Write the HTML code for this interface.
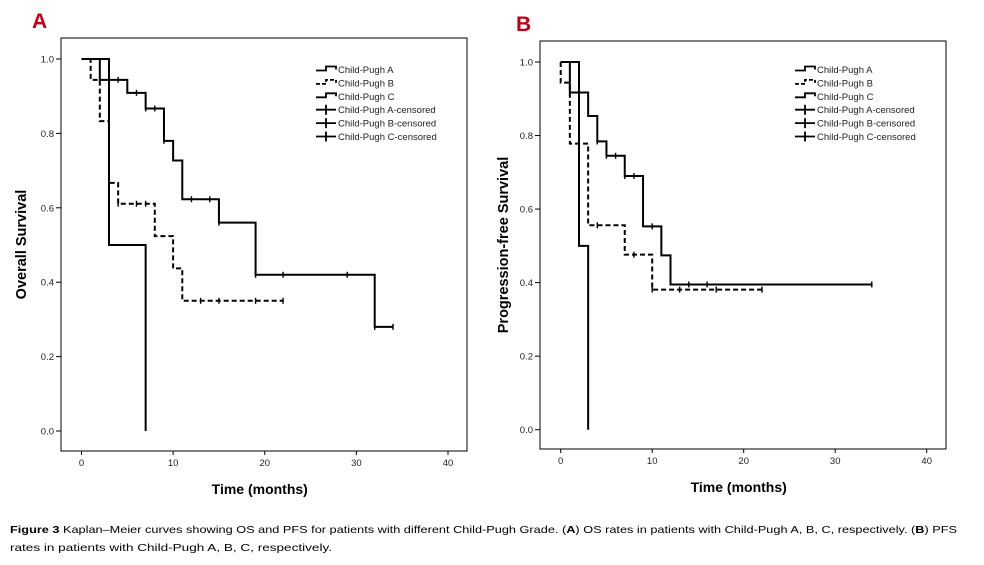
<!DOCTYPE html>
<html><head><meta charset="utf-8"><style>
body{margin:0;background:#fff}
svg{display:block;font-family:"Liberation Sans",Arial,sans-serif}
</style></head><body>
<svg id="fig" width="984" height="565" viewBox="0 0 984 565">
<text x="32" y="28" font-size="21" font-weight="bold" fill="#c00018">A</text>
<text x="516" y="31" font-size="21" font-weight="bold" fill="#c00018">B</text>
<text x="10" y="533" font-size="10.5" textLength="947" lengthAdjust="spacingAndGlyphs"><tspan font-weight="bold">Figure 3</tspan> Kaplan–Meier curves showing OS and PFS for patients with different Child-Pugh Grade. (<tspan font-weight="bold">A</tspan>) OS rates in patients with Child-Pugh A, B, C, respectively. (<tspan font-weight="bold">B</tspan>) PFS</text>
<text x="10" y="551" font-size="10.5" textLength="322" lengthAdjust="spacingAndGlyphs">rates in patients with Child-Pugh A, B, C, respectively.</text>
</svg>
<script>
// Panel A (Overall Survival)
const xTicks = [0, 10, 20, 30, 40];
const yTicks = [0.0, 0.2, 0.4, 0.6, 0.8, 1.0];
const yTickLabels = ["0.0", "0.2", "0.4", "0.6", "0.8", "1.0"];
const legendLabels = ["Child-Pugh A", "Child-Pugh B", "Child-Pugh C", "Child-Pugh A-censored", "Child-Pugh B-censored", "Child-Pugh C-censored"];

const osA_times = [0, 2, 5, 7, 9, 10, 11, 15, 19, 32, 34];
const osA_surv = [1.0, 0.944, 0.909, 0.867, 0.78, 0.727, 0.623, 0.56, 0.42, 0.28, 0.28];
const osA_cens_t = [4, 6, 7, 8, 9, 12, 14, 15, 19, 22, 29, 32, 34];
const osB_times = [0, 1, 2, 3, 4, 8, 10, 11, 22];
const osB_surv = [1.0, 0.944, 0.833, 0.667, 0.611, 0.524, 0.437, 0.35, 0.35];
const osB_cens_t = [4, 6, 7, 13, 15, 19, 22];
const osC_times = [0, 3, 7];
const osC_surv = [1.0, 0.5, 0.0];
const osC_cens_t = [];

// Panel B (Progression-free Survival)
const pfsA_times = [0, 1, 3, 4, 5, 7, 9, 11, 12, 34];
const pfsA_surv = [1.0, 0.917, 0.853, 0.784, 0.745, 0.69, 0.553, 0.474, 0.395, 0.395];
const pfsA_cens_t = [4, 5, 6, 7, 8, 10, 14, 16, 34];
const pfsB_times = [0, 1, 3, 7, 10, 22];
const pfsB_surv = [0.944, 0.778, 0.556, 0.476, 0.381, 0.381];
const pfsB_cens_t = [4, 8, 10, 13, 17, 22];
const pfsC_times = [0, 2, 3];
const pfsC_surv = [1.0, 0.5, 0.0];
const pfsC_cens_t = [];

const NS = "http://www.w3.org/2000/svg";
const svg = document.getElementById('fig');
function mk(tag, attrs, parent) {
  const e = document.createElementNS(NS, tag);
  for (const k in attrs) e.setAttribute(k, attrs[k]);
  (parent || svg).appendChild(e);
  return e;
}
function survAt(times, surv, t) {
  let v = surv[0];
  for (let i = 0; i < times.length; i++) if (times[i] <= t) v = surv[i];
  return v;
}
function panel(cfg) {
  const g = mk('g', {});
  
  
  const X = t => cfg.x0 + (cfg.x40 - cfg.x0) * t / 40;
  const Y = s => cfg.y0 + (cfg.y1 - cfg.y0) * s;
  const fr = mk('rect', {x: cfg.fx1, y: cfg.fy1, width: cfg.fx2 - cfg.fx1, height: cfg.fy2 - cfg.fy1, fill: 'none', stroke: '#000', 'stroke-width': 1}, g);
  
  
  xTicks.forEach(t => {
    mk('line', {x1: X(t), x2: X(t), y1: cfg.fy2, y2: cfg.fy2 + 4, stroke: '#000'}, g);
    const tx = mk('text', {x: X(t), y: cfg.fy2 + 15, 'font-size': 9.5, 'text-anchor': 'middle', fill: '#222'}, g);
    tx.textContent = t;
    
    
  });
  yTicks.forEach((v, i) => {
    mk('line', {x1: cfg.fx1 - 5, x2: cfg.fx1, y1: Y(v), y2: Y(v), stroke: '#000'}, g);
    const tx = mk('text', {x: cfg.fx1 - 7, y: Y(v) + 3.5, 'font-size': 9.5, 'text-anchor': 'end', fill: '#222'}, g);
    tx.textContent = yTickLabels[i];
    
    
  });
  const xt = mk('text', {x: (cfg.x0 + cfg.x40) / 2 - 5, y: cfg.fy2 + 43, 'font-size': 14, 'font-weight': 'bold', 'text-anchor': 'middle'}, g);
  xt.textContent = 'Time (months)';
  
  
  const yc = (cfg.fy1 + cfg.fy2) / 2;
  const yt = mk('text', {x: cfg.ytx, y: yc, 'font-size': 14.5, 'font-weight': 'bold', 'text-anchor': 'middle', transform: `rotate(-90 ${cfg.ytx} ${yc})`}, g);
  yt.textContent = cfg.ytitle;
  
  

  cfg.series.forEach((s, si) => {
    let d = `M${X(s.t[0])},${Y(cfg.startAtOne ? 1 : s.v[0])}`;
    if (cfg.startAtOne && s.v[0] !== 1) d += ` V${Y(s.v[0])}`;
    for (let i = 1; i < s.t.length; i++) {
      d += ` H${X(s.t[i])} V${Y(s.v[i])}`;
    }
    const p = mk('path', {d, fill: 'none', stroke: '#000', 'stroke-width': 2, 'stroke-dasharray': s.dash ? '5,3' : 'none'}, g);
    
    
    s.c.forEach(ct => {
      const v = survAt(s.t, s.v, ct);
      const m = mk('line', {x1: X(ct), x2: X(ct), y1: Y(v) - 3, y2: Y(v) + 3, stroke: '#000', 'stroke-width': 1.4}, g);
      
      
    });
  });
  legendLabels.forEach((lab, i) => {
    const ly = cfg.ly + i * 13.4;
    const lx = cfg.lx;
    let sym;
    if (i < 3) {
      sym = mk('path', {d: `M${lx},${ly + 1} H${lx + 10} V${ly - 3} H${lx + 20} V${ly}`, fill: 'none', stroke: '#000', 'stroke-width': 1.8, 'stroke-dasharray': i === 1 ? '4,2' : 'none'}, g);
    } else {
      sym = mk('path', {d: `M${lx},${ly} H${lx + 20} M${lx + 10},${ly - 5} V${ly + 5}`, fill: 'none', stroke: '#000', 'stroke-width': 1.8}, g);
    }
    
    
    const tx = mk('text', {x: lx + 22, y: ly + 3.5, 'font-size': 9.5, fill: '#222'}, g);
    tx.textContent = lab;
    
    
  });
}
panel({name: 'panel-a-overall-survival', x0: 81.5, x40: 448, y0: 431, y1: 59, fx1: 61, fx2: 467, fy1: 38, fy2: 451,
  ytx: 26, ytitle: 'Overall Survival', lx: 316, ly: 69.5, startAtOne: true,
  series: [
    {name: 'os-child-pugh-a', t: osA_times, v: osA_surv, c: osA_cens_t, dash: false},
    {name: 'os-child-pugh-b', t: osB_times, v: osB_surv, c: osB_cens_t, dash: true},
    {name: 'os-child-pugh-c', t: osC_times, v: osC_surv, c: osC_cens_t, dash: false}
  ]});
panel({name: 'panel-b-progression-free-survival', x0: 560.7, x40: 926.7, y0: 429.7, y1: 62, fx1: 540, fx2: 946, fy1: 41, fy2: 449,
  ytx: 508, ytitle: 'Progression-free Survival', lx: 795, ly: 69.5, startAtOne: true,
  series: [
    {name: 'pfs-child-pugh-a', t: pfsA_times, v: pfsA_surv, c: pfsA_cens_t, dash: false},
    {name: 'pfs-child-pugh-b', t: pfsB_times, v: pfsB_surv, c: pfsB_cens_t, dash: true},
    {name: 'pfs-child-pugh-c', t: pfsC_times, v: pfsC_surv, c: pfsC_cens_t, dash: false}
  ]});
</script>
</body></html>
